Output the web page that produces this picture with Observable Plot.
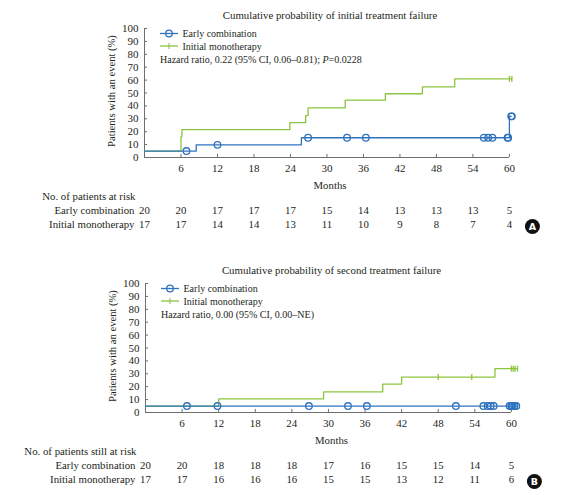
<!DOCTYPE html>
<html><head><meta charset="utf-8">
<script src="https://cdn.jsdelivr.net/npm/d3@7"></script>
<script src="https://cdn.jsdelivr.net/npm/@observablehq/plot@0.6"></script>
<style>
body{margin:0;background:#fff;}
#chart svg{display:block;}
</style></head><body><div id="chart"></div>
<script>
// ---------- shared ticks ----------
const riskMonths = [0, 6, 12, 18, 24, 30, 36, 42, 48, 54, 60];
const xTickLabels = [6, 12, 18, 24, 30, 36, 42, 48, 54, 60];
const yTicks = [0, 10, 20, 30, 40, 50, 60, 70, 80, 90, 100];
const seriesNames = ["Early combination", "Initial monotherapy"];

// ---------- Panel A: initial treatment failure ----------
const titleA = "Cumulative probability of initial treatment failure";
const aEarlyT = [0, 8.5, 25.8, 60.0, 60.3];
const aEarlyV = [5, 9.8, 15.3, 31.9, 31.9];
const aEarlyCensT = [6.9, 12.0, 26.9, 33.3, 36.4, 55.8, 56.5, 57.2, 59.7, 59.8, 60.3, 60.4];
const aEarlyCensV = [5, 9.8, 15.3, 15.3, 15.3, 15.3, 15.3, 15.3, 15.3, 15.3, 31.9, 31.9];
const aMonoT = [0, 6.0, 6.15, 23.9, 26.5, 26.9, 33.0, 39.6, 45.7, 51.0, 60.4];
const aMonoV = [5, 16, 21.6, 27, 32.5, 38.5, 44.4, 49.4, 54.8, 61, 61];
const aMonoCensT = [60.0, 60.4];
const aMonoCensV = [61, 61];
const aRiskLabel = "No. of patients at risk";
const aRiskEarly = [20, 20, 17, 17, 17, 15, 14, 13, 13, 13, 5];
const aRiskMono = [17, 17, 14, 14, 13, 11, 10, 9, 8, 7, 4];
const aHazard = ["Hazard ratio, 0.22 (95% CI, 0.06–0.81); ", "P", "=0.0228"];

// ---------- Panel B: second treatment failure ----------
const titleB = "Cumulative probability of second treatment failure";
const bEarlyT = [0, 60.8];
const bEarlyV = [5, 5];
const bEarlyCensT = [6.8, 11.8, 26.8, 33.2, 36.3, 50.9, 55.4, 56.1, 56.6, 57.1, 59.7, 60.0, 60.2, 60.5, 60.8];
const bEarlyCensV = [5, 5, 5, 5, 5, 5, 5, 5, 5, 5, 5, 5, 5, 5, 5];
const bMonoT = [0, 12, 29.2, 38.9, 42, 57.3, 61.0];
const bMonoV = [5, 10.5, 16, 22, 27.5, 34, 34];
const bMonoCensT = [48, 53.5, 60.0, 60.3, 60.6, 61.0];
const bMonoCensV = [27.5, 27.5, 34, 34, 34, 34];
const bRiskLabel = "No. of patients still at risk";
const bRiskEarly = [20, 20, 18, 18, 18, 17, 16, 15, 15, 14, 5];
const bRiskMono = [17, 17, 16, 16, 16, 15, 15, 13, 12, 11, 6];
const bHazard = ["Hazard ratio, 0.00 (95% CI, 0.00–NE)"];

// ---------- styling ----------
const BLUE = "#2f72bd";
const GREEN = "#8cc53f";
const AXIS = "#6d6e71";
const INK = "#231f20";
const FONT = "Liberation Serif, Times New Roman, serif";

const zip = (t, v) => t.map((d, i) => ({t: d, v: v[i]}));
const vbar = {draw(ctx, size) { const r = Math.sqrt(size / Math.PI); ctx.moveTo(0, -r); ctx.lineTo(0, r); }};

function legendMark(hazard) {
  return (index, scales, values, dim) => {
    const g = d3.create("svg:g").attr("font-family", FONT).attr("fill", INK).attr("text-anchor", "start");
    const x0 = scales.x(0);
    const y0 = scales.y(100);
    const rows = [{name: seriesNames[0], color: BLUE, dy: 5.5, sym: "circle"},
                  {name: seriesNames[1], color: GREEN, dy: 18, sym: "bar"}];
    for (const r of rows) {
      g.append("line").attr("x1", x0 + 16).attr("x2", x0 + 34).attr("y1", y0 + r.dy).attr("y2", y0 + r.dy)
        .attr("stroke", r.color).attr("stroke-width", 1.3);
      if (r.sym === "circle") {
        g.append("circle").attr("cx", x0 + 25).attr("cy", y0 + r.dy).attr("r", 3.3)
          .attr("fill", "none").attr("stroke", r.color).attr("stroke-width", 1.3);
      } else {
        g.append("line").attr("x1", x0 + 25).attr("x2", x0 + 25).attr("y1", y0 + r.dy - 3).attr("y2", y0 + r.dy + 3)
          .attr("stroke", r.color).attr("stroke-width", 1.1);
      }
      g.append("text").attr("x", x0 + 38.5).attr("y", y0 + r.dy).attr("dy", "0.35em")
        .attr("font-size", 10).text(r.name);
    }
    const ht = g.append("text").attr("x", x0 + 16).attr("y", y0 + 31.5).attr("dy", "0.35em").attr("font-size", 10);
    hazard.forEach((s) => { const ts = ht.append("tspan").text(s); if (s === "P") ts.attr("font-style", "italic"); });
    return g.node();
  };
}

function badgeMark(letter) {
  return (index, scales, values, dim) => {
    const g = d3.create("svg:g");
    const cx = scales.x(60) + 23.5;
    const cy = scales.y(0) + 69.5;
    g.append("circle").attr("cx", cx).attr("cy", cy).attr("r", 7.5).attr("fill", "#111");
    g.append("text").attr("x", cx).attr("y", cy).attr("dy", "0.36em").attr("text-anchor", "middle")
      .attr("fill", "#fff").attr("font-family", "DejaVu Sans, sans-serif").attr("font-weight", "bold")
      .attr("font-size", 9.5).text(letter);
    return g.node();
  };
}

function panel(cfg) {
  const early = zip(cfg.earlyT, cfg.earlyV);
  const mono = zip(cfg.monoT, cfg.monoV);
  const earlyC = zip(cfg.earlyCT, cfg.earlyCV);
  const monoC = zip(cfg.monoCT, cfg.monoCV);
  const riskE = zip(riskMonths, cfg.riskEarly);
  const riskM = zip(riskMonths, cfg.riskMono);
  const txt = {fontFamily: FONT, fill: INK};
  return Plot.plot({
    width: 578,
    height: cfg.height,
    marginTop: cfg.marginTop,
    marginBottom: cfg.height - cfg.marginTop - 129,
    marginLeft: cfg.marginLeft,
    marginRight: cfg.marginRight,
    x: {domain: [0, 61], axis: null},
    y: {domain: [0, 100], axis: null},
    style: {fontFamily: FONT, background: "#fff", overflow: "visible"},
    marks: [
      // axes
      Plot.ruleY([0], {x1: 0, x2: 60, stroke: AXIS, strokeWidth: 1}),
      Plot.ruleX([0], {y1: 0, y2: 100, stroke: AXIS, strokeWidth: 1}),
      Plot.ruleX(xTickLabels, {x: d => d, y1: 0, y2: 2.4, stroke: AXIS}),
      Plot.ruleY(yTicks, {y: d => d, x1: 0, x2: 0.5, stroke: AXIS}),
      Plot.text(xTickLabels, {x: d => d, text: d => String(d), frameAnchor: "bottom", dy: 14, fontSize: 11, ...txt}),
      Plot.text(yTicks, {y: d => d, text: d => String(d), frameAnchor: "left", dx: -6, textAnchor: "end", fontSize: 11, ...txt}),
      Plot.text(["Patients with an event (%)"], {frameAnchor: "left", dx: -33, dy: -2, rotate: -90, textAnchor: "middle", fontSize: 10.6, ...txt}),
      Plot.text([cfg.title], {frameAnchor: "top", dy: -17, fontSize: 10.8, ...txt}),
      Plot.text(["Months"], {frameAnchor: "bottom", dy: 31, fontSize: 10.8, ...txt}),
      // curves
      Plot.line(mono, {x: "t", y: "v", curve: "step-after", stroke: GREEN, strokeWidth: 1.3}),
      Plot.line(early, {x: "t", y: "v", curve: "step-after", stroke: BLUE, strokeWidth: 1.3}),
      Plot.dot(monoC, {x: "t", y: "v", symbol: vbar, r: 3, stroke: GREEN, strokeWidth: 1.3}),
      Plot.dot(earlyC, {x: "t", y: "v", r: 3.3, stroke: BLUE, fill: "none", strokeWidth: 1.3}),
      legendMark(cfg.hazard),
      // risk table
      Plot.text([cfg.riskLabel], {frameAnchor: "bottom-left", dx: -9, dy: 42, textAnchor: "end", fontSize: 10.8, ...txt}),
      Plot.text([{t: 0, s: seriesNames[0]}], {x: "t", text: "s", frameAnchor: "bottom", dx: -10, dy: 56.5, textAnchor: "end", fontSize: 10.8, ...txt}),
      Plot.text([{t: 0, s: seriesNames[1]}], {x: "t", text: "s", frameAnchor: "bottom", dx: -10, dy: 70, textAnchor: "end", fontSize: 10.8, ...txt}),
      Plot.text(riskE, {x: "t", text: d => String(d.v), frameAnchor: "bottom", dy: 56.5, fontSize: 10.8, ...txt}),
      Plot.text(riskM, {x: "t", text: d => String(d.v), frameAnchor: "bottom", dy: 70, fontSize: 10.8, ...txt}),
      badgeMark(cfg.badge)
    ]
  });
}

const el = document.getElementById("chart");
el.append(panel({
  title: titleA, height: 255, marginTop: 28, marginLeft: 144, marginRight: 63,
  earlyT: aEarlyT, earlyV: aEarlyV, earlyCT: aEarlyCensT, earlyCV: aEarlyCensV,
  monoT: aMonoT, monoV: aMonoV, monoCT: aMonoCensT, monoCV: aMonoCensV,
  riskLabel: aRiskLabel, riskEarly: aRiskEarly, riskMono: aRiskMono, hazard: aHazard, badge: "A"
}));
el.append(panel({
  title: titleB, height: 240, marginTop: 28, marginLeft: 145, marginRight: 61,
  earlyT: bEarlyT, earlyV: bEarlyV, earlyCT: bEarlyCensT, earlyCV: bEarlyCensV,
  monoT: bMonoT, monoV: bMonoV, monoCT: bMonoCensT, monoCV: bMonoCensV,
  riskLabel: bRiskLabel, riskEarly: bRiskEarly, riskMono: bRiskMono, hazard: bHazard, badge: "B"
}));
</script></body></html>
